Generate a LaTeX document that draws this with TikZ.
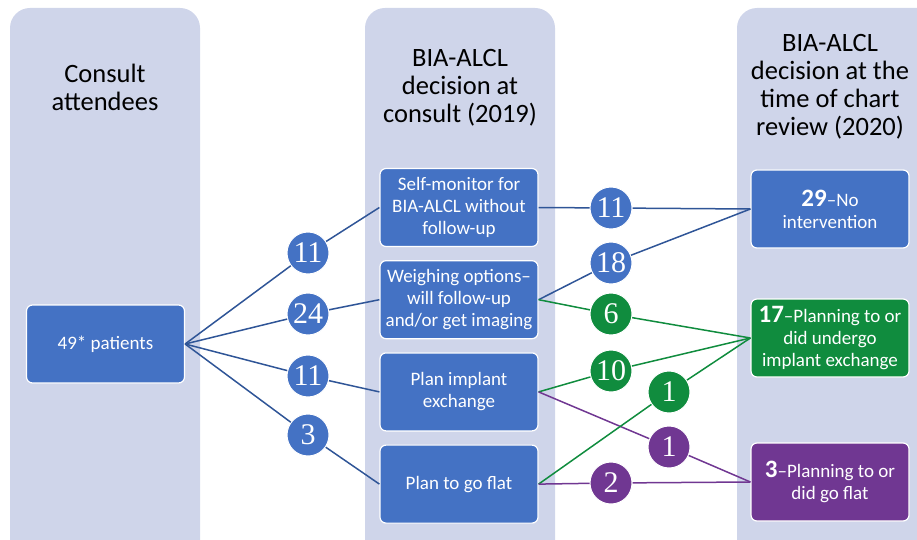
\documentclass[tikz,border=0pt]{standalone}
\usepackage{fontspec}
\setmainfont{Carlito}
\newfontfamily\numfont{Liberation Serif}
\usepackage{xcolor}
\usepackage{tikz}
\usetikzlibrary{positioning}

\definecolor{colbg}{RGB}{207,213,234}
\definecolor{boxblue}{RGB}{68,114,196}
\definecolor{lineblue}{RGB}{47,85,151}
\definecolor{boxgreen}{RGB}{16,140,62}
\definecolor{boxpurple}{RGB}{112,55,146}

\begin{document}
\begin{tikzpicture}[
    x=1pt, y=-1pt,
    col/.style={fill=colbg, rounded corners=20pt},
    head/.style={align=center, font=\fontsize{26.5}{28}\selectfont},
    box/.style={draw=white, line width=1.2pt, fill=boxblue, rounded corners=6pt,
        minimum width=158pt, minimum height=78pt, inner sep=2pt,
        align=center, text=white, font=\fontsize{19}{22}\selectfont},
    num/.style={circle, draw=white, line width=1pt, fill=boxblue,
        minimum size=42pt, inner sep=0pt, text=white,
        font=\numfont\fontsize{30}{30}\selectfont},
    link/.style={draw=lineblue, line width=1.5pt}
]
\useasboundingbox (0,0) rectangle (917,540);

% columns
\begin{scope}
    \clip (0,0) rectangle (917,540);
    \fill[col] (10,8) rectangle (200,570);
    \fill[col] (365,8) rectangle (555,570);
    \fill[col] (737,8) rectangle (950,570);
\end{scope}

% headings
\node[head] (hAttend) at (105,87) {Consult\\attendees};
\node[head] (hConsult) at (460,88) {BIA-ALCL\\decision at\\consult (2019)};
\node[head] (hReview) at (830,87) {BIA-ALCL\\decision at the\\time of chart\\review (2020)};

% boxes
\node[box] (patients) at (105.5,344) {49* patients};
\node[box] (selfmon) at (459,207.5) {Self-monitor for\\BIA-ALCL without\\follow-up};
\node[box, below=13pt of selfmon] (weigh) {Weighing options–\\will follow-up\\and/or get imaging};
\node[box, below=13pt of weigh] (implant) {Plan implant\\exchange};
\node[box, below=13pt of implant] (flat) {Plan to go flat};

\node[box] (nointerv) at (830,209) {{\fontsize{25}{25}\selectfont\bfseries 29}–No\\intervention};
\node[box, fill=boxgreen] (exch) at (830,338) {{\fontsize{25}{25}\selectfont\bfseries 17}–Planning to or\\did undergo\\implant exchange};
\node[box, fill=boxpurple] (goflat) at (830,482) {{\fontsize{25}{25}\selectfont\bfseries 3}–Planning to or\\did go flat};

% counts
\node[num] (cSelf) at (308,253) {11};
\node[num] (cWeigh) at (308,314) {24};
\node[num] (cPlan) at (308,376) {11};
\node[num] (cFlat) at (308,435) {3};

\node[num] (cSelfNone) at (611,208) {11};
\node[num] (cWeighNone) at (611,263) {18};
\node[num, fill=boxgreen] (cWeighExch) at (611,314) {6};
\node[num, fill=boxgreen] (cPlanExch) at (611,371) {10};
\node[num, fill=boxgreen] (cFlatExch) at (669,392) {1};
\node[num, fill=boxpurple] (cPlanFlat) at (669,447) {1};
\node[num, fill=boxpurple] (cFlatFlat) at (611,483) {2};

% connectors
\draw[link] (patients.east) -- (cSelf) -- (selfmon.west);
\draw[link] (patients.east) -- (cWeigh) -- (weigh.west);
\draw[link] (patients.east) -- (cPlan) -- (implant.west);
\draw[link] (patients.east) -- (cFlat) -- (flat.west);

\draw[link] (selfmon.east) -- (cSelfNone) -- (nointerv.west);
\draw[link] (weigh.east) -- (cWeighNone) -- (nointerv.west);
\draw[link, draw=boxgreen] (weigh.east) -- (cWeighExch) -- (exch.west);
\draw[link, draw=boxgreen] (implant.east) -- (cPlanExch) -- (exch.west);
\draw[link, draw=boxpurple] (implant.east) -- (cPlanFlat) -- (goflat.west);
\draw[link, draw=boxgreen] (flat.east) -- (cFlatExch) -- (exch.west);
\draw[link, draw=boxpurple] (flat.east) -- (cFlatFlat) -- (goflat.west);
\end{tikzpicture}
\end{document}
